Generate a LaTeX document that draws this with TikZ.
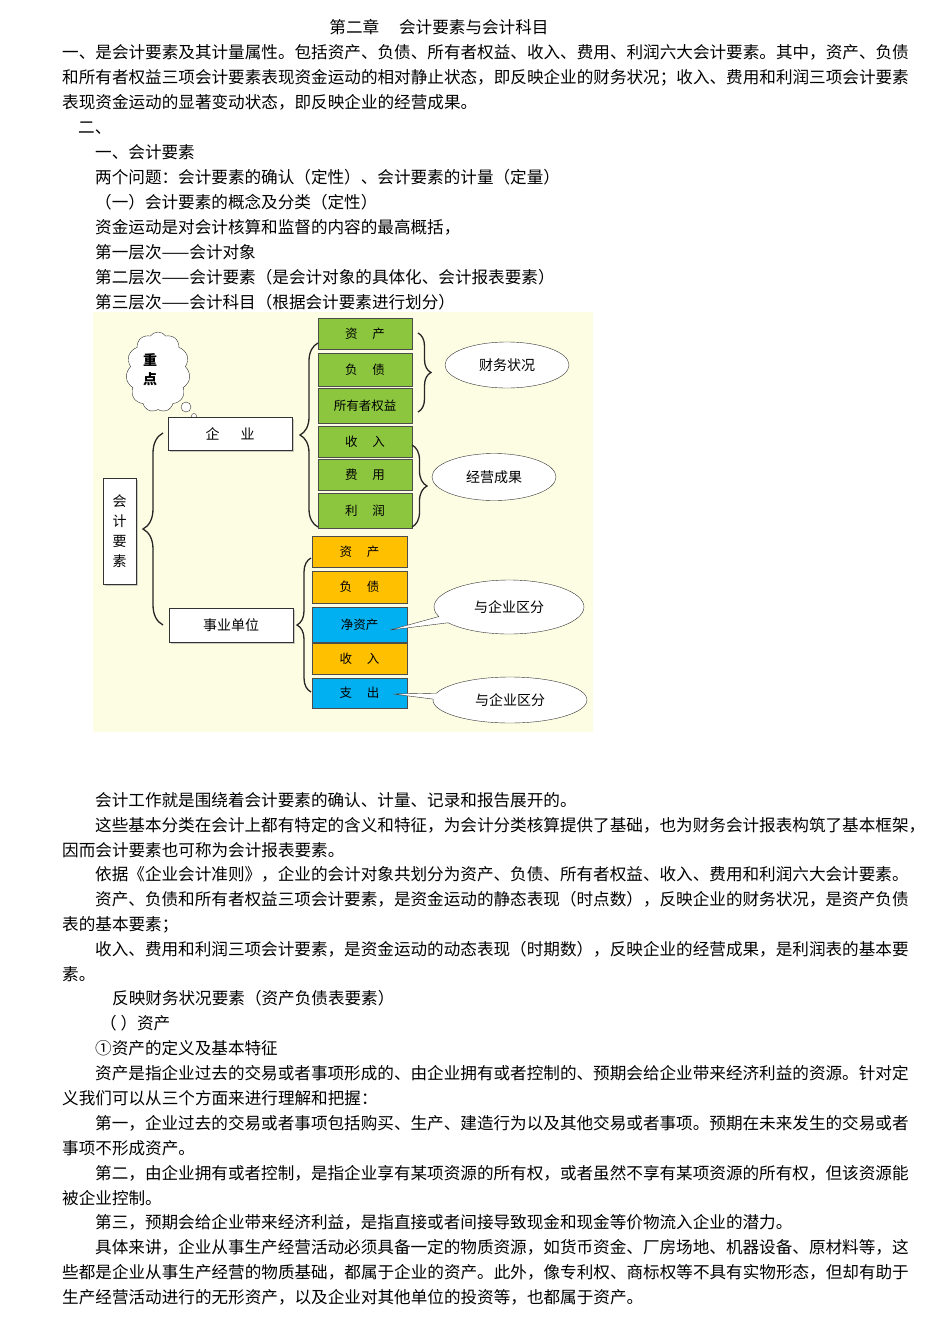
\documentclass[tikz,border=0pt]{standalone}
\usepackage{fontspec}
\setmainfont{Noto Sans CJK SC}
\usetikzlibrary{shapes.geometric,shapes.symbols,shapes.callouts,shadows,decorations.pathreplacing}
\definecolor{gfill}{RGB}{140,198,63}
\definecolor{ofill}{RGB}{255,192,0}
\definecolor{bfill}{RGB}{0,176,240}
\definecolor{dbg}{RGB}{253,253,228}
\newcommand{\tl}[3]{\node[txt] at (#1,#2+6) {#3};}
\begin{document}
\begin{tikzpicture}[x=1pt,y=-1pt,
  txt/.style={anchor=base west,inner sep=0pt,font=\fontsize{16.6}{18}\selectfont},
  gbox/.style={draw=black!70,fill=gfill,minimum width=94pt,minimum height=31pt,inner sep=0pt,font=\fontsize{12.5}{14}\selectfont},
  obox/.style={draw=black!70,fill=ofill,minimum width=95pt,minimum height=31pt,inner sep=0pt,font=\fontsize{12.5}{14}\selectfont},
  bbox/.style={obox,fill=bfill},
  wbox/.style={draw=black!80,fill=white,drop shadow={shadow xshift=2pt,shadow yshift=-2pt,fill=black!40},inner sep=0pt,font=\fontsize{14}{16}\selectfont},
  ell/.style={draw=black!80,fill=white,ellipse,inner sep=0pt,font=\fontsize{14}{16}\selectfont},
  brc/.style={draw=black!85,line width=1.3pt,decorate,decoration={brace,amplitude=#1}}]
\useasboundingbox (0,0) rectangle (950,1344);
\fill[white] (0,0) rectangle (950,1344);
\node[anchor=base,font=\fontsize{16.6}{18}\selectfont,inner sep=0pt] (title) at (439,33) {第二章\hspace{1.2em}会计要素与会计科目};
\tl{62}{52}{一、是会计要素及其计量属性。包括资产、负债、所有者权益、收入、费用、利润六大会计要素。其中，资产、负债}
\tl{62}{77}{和所有者权益三项会计要素表现资金运动的相对静止状态，即反映企业的财务状况；收入、费用和利润三项会计要素}
\tl{62}{102}{表现资金运动的显著变动状态，即反映企业的经营成果。}
\tl{78}{127}{二、}
\tl{95}{152}{一、会计要素}
\tl{95}{177}{两个问题：会计要素的确认（定性）、会计要素的计量（定量）}
\tl{95}{202}{（一）会计要素的概念及分类（定性）}
\tl{95}{227}{资金运动是对会计核算和监督的内容的最高概括，}
\tl{95}{252}{第一层次——会计对象}
\tl{95}{277}{第二层次——会计要素（是会计对象的具体化、会计报表要素）}
\tl{95}{302}{第三层次——会计科目（根据会计要素进行划分）}
% diagram
\fill[dbg] (93,312) rectangle (593,732);
\node[cloud,draw=black!80,fill=white,cloud puffs=11,cloud puff arc=110,aspect=0.8,minimum width=64pt,minimum height=80pt] (cloud) at (158,372) {};
\node[font=\bfseries\fontsize{14}{16}\selectfont,align=center,inner sep=0pt] (zd) at (150,370) {重\\[3pt]点};
\node[circle,draw=black!80,fill=white,minimum size=10pt,inner sep=0pt] (c1) at (186,407) {};
\node[circle,draw=black!80,fill=white,minimum size=5pt,inner sep=0pt] (c2) at (194,416) {};
\node[wbox,minimum width=33pt,minimum height=106pt,align=center] (kj) at (119.5,531) {会\\[4pt]计\\[4pt]要\\[4pt]素};
\node[wbox,minimum width=124pt,minimum height=33pt] (qy) at (230,433.5) {企\hspace{1.5em}业};
\node[wbox,minimum width=124pt,minimum height=34pt] (sy) at (231,625) {事业单位};
\node[gbox] (g1) at (365,334) {资\hspace{1.2em}产};
\node[gbox,minimum height=33pt] (g2) at (365,369.5) {负\hspace{1.2em}债};
\node[gbox,minimum height=35pt] (g3) at (365,405.5) {所有者权益};
\node[gbox] (g4) at (365,442) {收\hspace{1.2em}入};
\node[gbox] (g5) at (365,475) {费\hspace{1.2em}用};
\node[gbox,minimum height=35pt] (g6) at (365,510.5) {利\hspace{1.2em}润};
\node[obox] (o1) at (359.5,552) {资\hspace{1.2em}产};
\node[obox,minimum height=32pt] (o2) at (359.5,587) {负\hspace{1.2em}债};
\node[bbox,minimum height=35pt] (o3) at (359.5,624.5) {净资产};
\node[obox] (o4) at (359.5,659) {收\hspace{1.2em}入};
\node[bbox,minimum height=30pt] (o5) at (359.5,693) {支\hspace{1.2em}出};
\draw[brc=20] (163,625) -- (163,433);
\draw[brc=18] (318,527) -- (318,343);
\draw[brc=14] (311,692) -- (311,558);
\draw[brc=13] (418,333) -- (418,412);
\draw[brc=15] (412,445) -- (412,527);
\node[ell,minimum width=124pt,minimum height=46pt] (cw) at (507,365) {财务状况};
\node[ell,minimum width=124pt,minimum height=47pt] (jy) at (494,477) {经营成果};
\coordinate (p1) at (390,630);
\coordinate (p2) at (393,694);
\node[ellipse callout,draw=black!80,fill=white,minimum width=150pt,minimum height=54pt,inner sep=0pt,font=\fontsize{14}{16}\selectfont,callout absolute pointer={(p1)}] (q1) at (509,607) {与企业区分};
\node[ellipse callout,draw=black!80,fill=white,minimum width=154pt,minimum height=46pt,inner sep=0pt,font=\fontsize{14}{16}\selectfont,callout absolute pointer={(p2)}] (q2) at (510,700) {与企业区分};
% body
\tl{95}{800}{会计工作就是围绕着会计要素的确认、计量、记录和报告展开的。}
\tl{95}{825}{这些基本分类在会计上都有特定的含义和特征，为会计分类核算提供了基础，也为财务会计报表构筑了基本框架，}
\tl{62}{850}{因而会计要素也可称为会计报表要素。}
\tl{95}{874}{依据《企业会计准则》，企业的会计对象共划分为资产、负债、所有者权益、收入、费用和利润六大会计要素。}
\tl{95}{899}{资产、负债和所有者权益三项会计要素，是资金运动的静态表现（时点数），反映企业的财务状况，是资产负债}
\tl{62}{924}{表的基本要素；}
\tl{95}{949}{收入、费用和利润三项会计要素，是资金运动的动态表现（时期数），反映企业的经营成果，是利润表的基本要}
\tl{62}{974}{素。}
\tl{112}{998}{反映财务状况要素（资产负债表要素）}
\tl{100}{1023}{（ ）资产}
\tl{95}{1048}{①资产的定义及基本特征}
\tl{95}{1073}{资产是指企业过去的交易或者事项形成的、由企业拥有或者控制的、预期会给企业带来经济利益的资源。针对定}
\tl{62}{1098}{义我们可以从三个方面来进行理解和把握：}
\tl{95}{1123}{第一，企业过去的交易或者事项包括购买、生产、建造行为以及其他交易或者事项。预期在未来发生的交易或者}
\tl{62}{1148}{事项不形成资产。}
\tl{95}{1173}{第二，由企业拥有或者控制，是指企业享有某项资源的所有权，或者虽然不享有某项资源的所有权，但该资源能}
\tl{62}{1198}{被企业控制。}
\tl{95}{1222}{第三，预期会给企业带来经济利益，是指直接或者间接导致现金和现金等价物流入企业的潜力。}
\tl{95}{1247}{具体来讲，企业从事生产经营活动必须具备一定的物质资源，如货币资金、厂房场地、机器设备、原材料等，这}
\tl{62}{1272}{些都是企业从事生产经营的物质基础，都属于企业的资产。此外，像专利权、商标权等不具有实物形态，但却有助于}
\tl{62}{1297}{生产经营活动进行的无形资产，以及企业对其他单位的投资等，也都属于资产。}
\end{tikzpicture}
\end{document}
